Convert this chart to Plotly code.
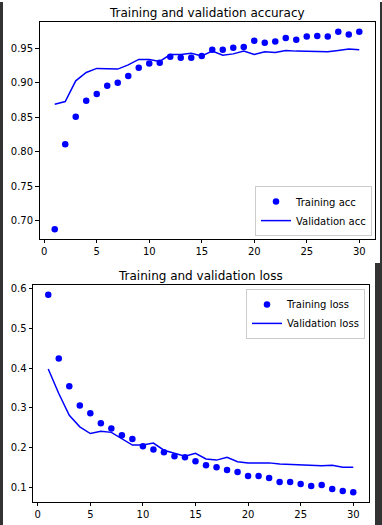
import plotly.graph_objects as go

epochs = list(range(1, 31))

train_acc = [0.688, 0.811, 0.851, 0.874, 0.884, 0.896, 0.900, 0.910, 0.922, 0.928,
             0.929, 0.938, 0.9365, 0.9365, 0.939, 0.948, 0.948, 0.951, 0.952, 0.961,
             0.958, 0.960, 0.965, 0.9625, 0.967, 0.968, 0.967, 0.974, 0.970, 0.974]
val_acc = [0.869, 0.873, 0.903, 0.915, 0.921, 0.920, 0.920, 0.926, 0.934, 0.934,
           0.931, 0.941, 0.941, 0.943, 0.939, 0.946, 0.940, 0.942, 0.946, 0.941,
           0.945, 0.944, 0.947, 0.946, 0.946, 0.946, 0.945, 0.947, 0.949, 0.948]

train_loss = [0.585, 0.424, 0.354, 0.306, 0.286, 0.261, 0.248, 0.231, 0.221, 0.203,
              0.195, 0.188, 0.178, 0.175, 0.165, 0.155, 0.150, 0.143, 0.138, 0.128,
              0.128, 0.123, 0.113, 0.113, 0.108, 0.103, 0.105, 0.095, 0.090, 0.087]
val_loss = [0.398, 0.336, 0.281, 0.252, 0.235, 0.241, 0.238, 0.223, 0.206, 0.206,
            0.211, 0.193, 0.185, 0.178, 0.185, 0.171, 0.168, 0.175, 0.164, 0.161,
            0.161, 0.161, 0.158, 0.157, 0.157, 0.155, 0.154, 0.155, 0.150, 0.150]

x_ticks = [0, 5, 10, 15, 20, 25, 30]
acc_ticks = [0.70, 0.75, 0.80, 0.85, 0.90, 0.95]
loss_ticks = [0.1, 0.2, 0.3, 0.4, 0.5, 0.6]

W, H = 382, 525
FONT = "DejaVu Sans"
BLUE = "#0000ff"


def mpl_range(*series):
    lo = min(min(s) for s in series)
    hi = max(max(s) for s in series)
    m = (hi - lo) * 0.05
    return [lo - m, hi + m]


fig = go.Figure()

fig.add_trace(go.Scatter(x=epochs, y=train_acc, mode="markers", name="Training acc",
                         marker=dict(color=BLUE, size=6.5), xaxis="x", yaxis="y",
                         legend="legend"))
fig.add_trace(go.Scatter(x=epochs, y=val_acc, mode="lines", name="Validation acc",
                         line=dict(color=BLUE, width=1.5), xaxis="x", yaxis="y",
                         legend="legend"))
fig.add_trace(go.Scatter(x=epochs, y=train_loss, mode="markers", name="Training loss",
                         marker=dict(color=BLUE, size=6.5), xaxis="x2", yaxis="y2",
                         legend="legend2"))
fig.add_trace(go.Scatter(x=epochs, y=val_loss, mode="lines", name="Validation loss",
                         line=dict(color=BLUE, width=1.5), xaxis="x2", yaxis="y2",
                         legend="legend2"))

axis_style = dict(showline=True, mirror=True, linecolor="black", linewidth=0.8,
                  ticks="outside", ticklen=3.5, tickwidth=0.8, tickcolor="black",
                  showgrid=False, zeroline=False,
                  tickfont=dict(family=FONT, size=10, color="black"))

top_x = [39.5 / W, 374.5 / W]
top_y = [1 - 238 / H, 1 - 20 / H]
bot_x = [33 / W, 368.5 / W]
bot_y = [1 - 502 / H, 1 - 284 / H]

xr = mpl_range(epochs)

legend_style = dict(bgcolor="rgba(255,255,255,0.8)", bordercolor="#cccccc", borderwidth=1,
                    itemwidth=30, tracegroupgap=0,
                    font=dict(family=FONT, size=10, color="black"))

fig.update_layout(
    width=W, height=H,
    margin=dict(l=0, r=0, t=0, b=0),
    paper_bgcolor="white", plot_bgcolor="white",
    font=dict(family=FONT, size=10, color="black"),
    xaxis=dict(domain=top_x, range=xr, tickvals=x_ticks, anchor="y", **axis_style),
    yaxis=dict(domain=top_y, range=mpl_range(train_acc, val_acc), tickvals=acc_ticks,
               tickformat=".2f", anchor="x", **axis_style),
    xaxis2=dict(domain=bot_x, range=xr, tickvals=x_ticks, anchor="y2", **axis_style),
    yaxis2=dict(domain=bot_y, range=mpl_range(train_loss, val_loss), tickvals=loss_ticks,
                tickformat=".1f", anchor="x2", **axis_style),
    legend=dict(x=372 / W, y=1 - 235 / H, xanchor="right", yanchor="bottom", **legend_style),
    legend2=dict(x=365 / W, y=1 - 288 / H, xanchor="right", yanchor="top", **legend_style),
    annotations=[
        dict(text="Training and validation accuracy", x=(top_x[0] + top_x[1]) / 2,
             y=1 - 11 / H, xref="paper", yref="paper", showarrow=False,
             xanchor="center", yanchor="middle",
             font=dict(family=FONT, size=12, color="black")),
        dict(text="Training and validation loss", x=(bot_x[0] + bot_x[1]) / 2,
             y=1 - 275 / H, xref="paper", yref="paper", showarrow=False,
             xanchor="center", yanchor="middle",
             font=dict(family=FONT, size=12, color="black")),
    ],
    shapes=[
        dict(type="rect", xref="paper", yref="paper", x0=0, x1=3 / W, y0=0, y1=1,
             fillcolor="#333333", line=dict(width=0), layer="above"),
        dict(type="rect", xref="paper", yref="paper", x0=380 / W, x1=1, y0=1 - 262 / H, y1=1,
             fillcolor="#333333", line=dict(width=0), layer="above"),
        dict(type="rect", xref="paper", yref="paper", x0=375 / W, x1=1, y0=0, y1=1 - 262 / H,
             fillcolor="#333333", line=dict(width=0), layer="above"),
    ],
)

fig.write_html("out.html", config={"displayModeBar": False},
               post_script="document.body.style.margin='0';document.body.style.padding='0';")
